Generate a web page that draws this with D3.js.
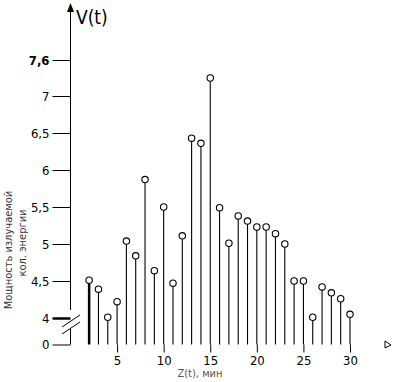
<!DOCTYPE html>
<html>
<head>
<meta charset="utf-8">
<script src="https://cdn.jsdelivr.net/npm/d3@7"></script>
<style>
  body { margin: 0; background: #fff; }
  svg text { font-family: "DejaVu Sans", sans-serif; font-stretch: condensed; fill: #000; }
</style>
</head>
<body>
<svg id="chart" width="397" height="382"></svg>
<script>
// data
var times = [2, 3, 4, 5, 6, 7, 8, 9, 10, 11, 12, 13, 14, 15, 16, 17, 18, 19, 20, 21, 22, 23, 24, 25, 26, 27, 28, 29, 30];
var power = [4.51, 4.39, 4.01, 4.22, 5.04, 4.84, 5.87, 4.64, 5.5, 4.47, 5.11, 6.43, 6.36, 7.3, 5.49, 5.01, 5.38, 5.31, 5.23, 5.23, 5.14, 5.0, 4.5, 4.5, 4.01, 4.42, 4.34, 4.26, 4.05];
var yTicks = [0, 4, 4.5, 5, 5.5, 6, 6.5, 7, 7.6];
var yTickLabels = ["0", "4", "4,5", "5", "5,5", "6", "6,5", "7", "7,6"];
var xTicks = [5, 10, 15, 20, 25, 30];

var svg = d3.select("#chart");

var x = d3.scaleLinear().domain([0, 30]).range([70.5, 350]);
// broken axis: 0..4 squeezed, then linear
var y = d3.scaleLinear().domain([0, 4, 7, 7.6]).range([344.5, 318, 96, 60]);

// y axis ticks
var yAxis = d3.axisLeft(y)
    .tickValues(yTicks)
    .tickSize(18)
    .tickPadding(3)
    .tickFormat(function(d, i) { return yTickLabels[i]; });

var gy = svg.append("g").attr("transform", "translate(70.5,0)").call(yAxis);
gy.select(".domain").remove();
gy.selectAll("text").style("font-size", "13px");
gy.selectAll(".tick").filter(function(d) { return d == 7.6; })
    .select("text").style("font-weight", "bold");
gy.selectAll(".tick").filter(function(d) { return d == 4; })
    .select("line").attr("stroke-width", 2.5);

// axis line with a break
svg.append("line").attr("x1", 70.5).attr("x2", 70.5).attr("y1", 8).attr("y2", 310).attr("stroke", "#000");
svg.append("line").attr("x1", 70.5).attr("x2", 70.5).attr("y1", 328).attr("y2", y(0)).attr("stroke", "#000");
svg.append("line").attr("x1", 62).attr("y1", 327).attr("x2", 80).attr("y2", 315).attr("stroke", "#000");
svg.append("line").attr("x1", 62).attr("y1", 334).attr("x2", 80).attr("y2", 322).attr("stroke", "#000");
svg.append("path").attr("d", "M70.5,3 L67,12 L74,12 Z").attr("fill", "#000");

svg.append("text").attr("x", 76).attr("y", 24).style("font-size", "19px").text("V(t)");

// y title
svg.append("text")
    .attr("transform", "translate(12,250) rotate(-90)")
    .attr("text-anchor", "middle")
    .style("font-size", "11px").style("fill", "#333")
    .text("Мощность излучаемой");
svg.append("text")
    .attr("transform", "translate(26,243) rotate(-90)")
    .attr("text-anchor", "middle")
    .style("font-size", "11px").style("fill", "#333")
    .text("кол. энергии");

// x axis
var xAxis = d3.axisBottom(x).tickValues(xTicks).tickSize(8).tickPadding(3);
var gx = svg.append("g").attr("transform", "translate(0," + y(0) + ")").call(xAxis);
gx.select(".domain").remove();
gx.selectAll("text").style("font-size", "13px");

svg.append("text").attr("x", 200).attr("y", 377).attr("text-anchor", "middle")
    .style("font-size", "11px").style("fill", "#555").text("Z(t), мин");
svg.append("path").attr("d", "M385,341 L391,345 L385,348 Z").attr("fill", "none").attr("stroke", "#000");

// stems and markers
svg.append("g").selectAll("line")
    .data(times)
    .enter().append("line")
    .attr("x1", function(d) { return x(d); })
    .attr("x2", function(d) { return x(d); })
    .attr("y1", y(0))
    .attr("y2", function(d, i) { return y(power[i]) + 3; })
    .attr("stroke", "#000")
    .attr("stroke-width", function(d) { return d == 2 ? 2.5 : 1.1; });

svg.append("g").selectAll("circle")
    .data(times)
    .enter().append("circle")
    .attr("cx", function(d) { return x(d); })
    .attr("cy", function(d, i) { return y(power[i]); })
    .attr("r", 3.2)
    .attr("fill", "#fff")
    .attr("stroke", "#000")
    .attr("stroke-width", 1.1);
</script>
</body>
</html>
